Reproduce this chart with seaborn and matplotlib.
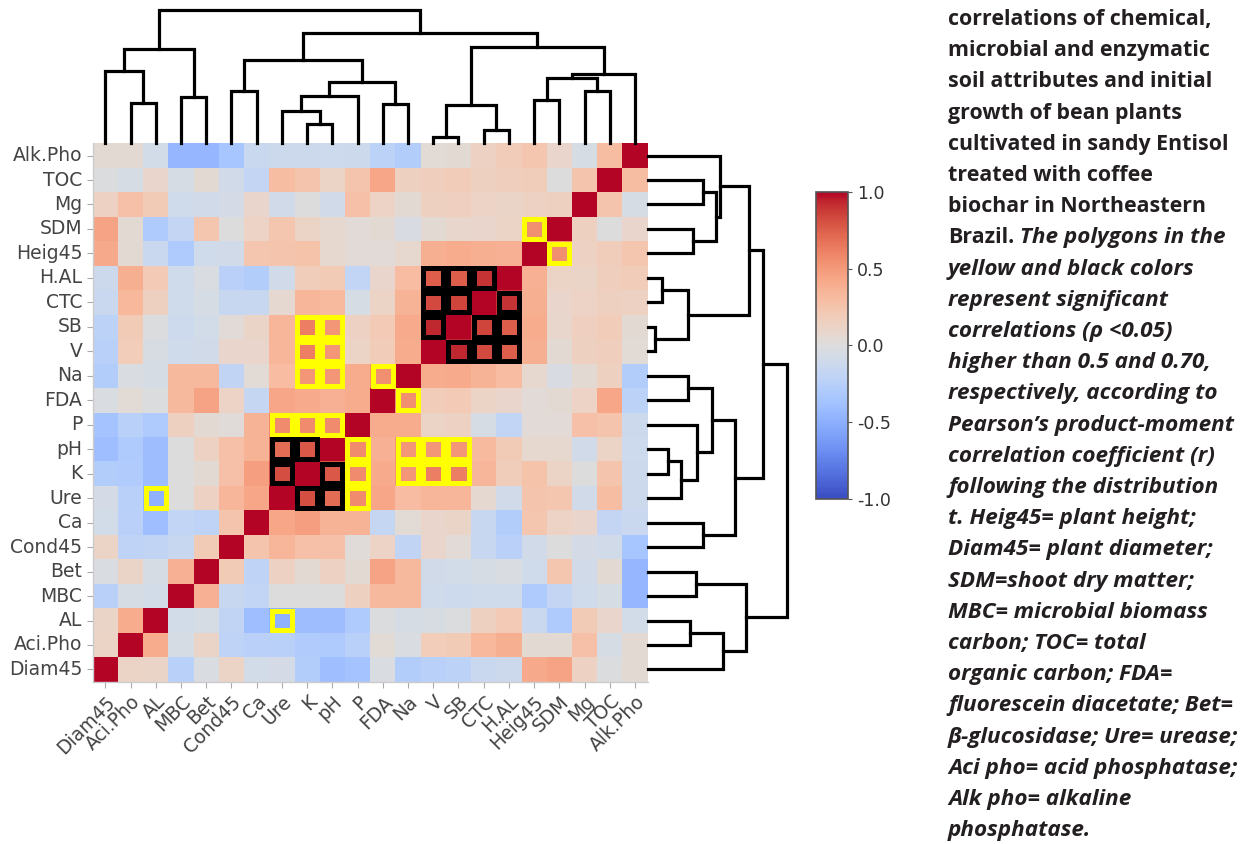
import numpy as np
import pandas as pd
import matplotlib
matplotlib.use("Agg")
import matplotlib.pyplot as plt
from matplotlib.patches import Rectangle
import seaborn as sns

# ---------------------------------------------------------------
# data (cluster order of the heatmap columns)
# ---------------------------------------------------------------
cols = ["Diam45", "Aci.Pho", "AL", "MBC", "Bet", "Cond45", "Ca", "Ure", "K", "pH",
        "P", "FDA", "Na", "V", "SB", "CTC", "H.AL", "Heig45", "SDM", "Mg", "TOC", "Alk.Pho"]
rows = cols[::-1]

# one list per heatmap row (top to bottom), values in column order
corr_rows = [
    [0.05, 0.05, -0.08, -0.45, -0.45, -0.35, -0.12, -0.12, -0.12, -0.10, -0.12, -0.20, -0.25, 0.03, 0.05, 0.12, 0.18, 0.25, 0.10, -0.05, 0.30, 1],   # Alk.Pho
    [0.00, -0.05, 0.10, -0.05, 0.05, -0.08, -0.15, 0.30, 0.25, 0.12, 0.25, 0.45, 0.15, 0.18, 0.18, 0.15, 0.15, 0.15, 0.00, 0.25, 1, 0.30],        # TOC
    [0.15, 0.30, 0.20, -0.08, -0.08, -0.05, 0.10, -0.08, 0.00, -0.08, 0.30, 0.15, 0.05, 0.15, 0.12, 0.10, 0.10, 0.12, 0.15, 1, 0.25, -0.05],      # Mg
    [0.45, 0.05, -0.30, -0.15, 0.22, 0.00, 0.15, 0.22, 0.12, 0.10, 0.05, 0.05, -0.02, 0.05, 0.08, 0.08, 0.12, 0.55, 1, 0.15, 0.00, 0.10],        # SDM
    [0.42, 0.05, -0.15, -0.30, -0.10, -0.08, 0.22, 0.25, 0.28, 0.10, 0.05, 0.02, 0.10, 0.38, 0.40, 0.40, 0.38, 1, 0.55, 0.15, 0.20, 0.22],       # Heig45
    [-0.15, 0.38, 0.22, -0.08, 0.00, -0.22, -0.25, -0.08, 0.20, 0.20, -0.18, 0.10, 0.30, 0.75, 0.75, 0.90, 1, 0.38, 0.12, 0.12, 0.18, 0.20],     # H.AL
    [-0.15, 0.35, 0.15, -0.08, -0.05, -0.12, -0.12, 0.08, 0.35, 0.32, -0.05, 0.12, 0.35, 0.83, 0.85, 1, 0.90, 0.38, 0.12, 0.15, 0.15, 0.15],     # CTC
    [-0.22, 0.22, 0.00, -0.10, -0.08, 0.05, 0.12, 0.35, 0.62, 0.52, 0.15, 0.20, 0.40, 0.93, 1, 0.85, 0.75, 0.40, 0.10, 0.20, 0.20, 0.05],        # SB
    [-0.25, 0.18, -0.05, -0.10, -0.10, 0.10, 0.10, 0.35, 0.62, 0.52, 0.12, 0.18, 0.40, 1, 0.93, 0.83, 0.75, 0.40, 0.05, 0.15, 0.15, 0.05],       # V
    [-0.25, 0.00, -0.05, 0.30, 0.30, -0.20, 0.03, 0.30, 0.52, 0.52, 0.40, 0.55, 1, 0.40, 0.42, 0.38, 0.32, 0.05, -0.05, 0.05, 0.15, -0.30],      # Na
    [0.00, 0.05, 0.00, 0.30, 0.45, 0.15, -0.15, 0.42, 0.40, 0.38, 0.40, 1, 0.55, 0.20, 0.22, 0.12, 0.10, 0.05, 0.05, 0.10, 0.42, -0.25],         # FDA
    [-0.35, -0.25, -0.30, 0.15, 0.05, 0.03, 0.35, 0.57, 0.57, 0.57, 1, 0.40, 0.40, 0.12, 0.12, -0.05, -0.18, 0.02, 0.02, 0.25, 0.25, -0.12],     # P
    [-0.40, -0.30, -0.40, 0.00, 0.15, 0.25, 0.35, 0.70, 0.78, 1, 0.57, 0.38, 0.52, 0.52, 0.52, 0.32, 0.20, 0.05, 0.05, -0.10, 0.12, -0.12],      # pH
    [-0.30, -0.30, -0.40, 0.00, 0.05, 0.25, 0.45, 0.82, 1, 0.78, 0.57, 0.42, 0.52, 0.62, 0.62, 0.35, 0.15, 0.25, 0.12, 0.00, 0.25, -0.12],       # K
    [-0.05, -0.25, -0.48, 0.00, 0.12, 0.35, 0.45, 1, 0.82, 0.70, 0.57, 0.45, 0.32, 0.35, 0.35, 0.05, -0.10, 0.25, 0.25, -0.10, 0.30, -0.12],     # Ure
    [-0.08, -0.25, -0.40, -0.22, -0.22, 0.25, 1, 0.42, 0.50, 0.38, 0.38, -0.18, 0.05, 0.10, 0.10, -0.18, -0.30, 0.25, 0.10, 0.10, -0.20, -0.15],  # Ca
    [0.12, -0.22, -0.18, -0.15, 0.20, 1, 0.25, 0.35, 0.30, 0.30, 0.03, 0.10, -0.18, 0.10, 0.02, -0.18, -0.25, -0.10, 0.00, -0.08, -0.10, -0.35],   # Cond45
    [0.00, 0.12, -0.05, 0.38, 1, 0.20, -0.20, 0.15, 0.05, 0.12, 0.05, 0.45, 0.35, -0.08, -0.08, -0.05, -0.05, -0.10, 0.25, -0.10, 0.05, -0.45],   # Bet
    [-0.25, -0.05, -0.08, 1, 0.38, -0.15, -0.15, 0.00, 0.00, 0.00, 0.15, 0.35, 0.35, -0.10, -0.12, -0.12, -0.12, -0.30, -0.20, -0.12, -0.05, -0.45],  # MBC
    [0.12, 0.40, 1, -0.08, -0.05, -0.20, -0.40, -0.48, -0.42, -0.42, -0.30, -0.02, -0.05, -0.03, -0.02, 0.15, 0.20, -0.12, -0.30, 0.20, 0.10, -0.08],  # AL
    [0.12, 1, 0.40, -0.05, 0.10, -0.20, -0.22, -0.25, -0.28, -0.30, -0.25, 0.03, -0.05, 0.18, 0.18, 0.32, 0.40, 0.05, 0.05, 0.25, -0.05, 0.05],   # Aci.Pho
    [1, 0.12, 0.10, -0.25, -0.05, 0.12, -0.08, -0.08, -0.25, -0.40, -0.38, -0.05, -0.30, -0.25, -0.22, -0.12, -0.10, 0.42, 0.45, 0.12, -0.02, 0.05],  # Diam45
]

# hierarchical clustering
# a str is a leaf, an int refers to an earlier merge (0-based)
merge_left = ["Aci.Pho", "Diam45", "MBC", 1, "Cond45", "K", "Ure", 6, "FDA", 7, 4,
              "V", "CTC", 11, "Heig45", "Mg", 14, 16, 13, 10, 3]
merge_right = ["AL", 0, "Bet", 2, "Ca", "pH", 5, "P", "Na", 8, 9,
               "SB", "H.AL", 12, "SDM", "TOC", 15, "Alk.Pho", 17, 18, 19]
merge_height = [0.305, 0.5425, 0.345, 0.7075, 0.395, 0.145, 0.2425, 0.3575, 0.2925, 0.4625, 0.625,
                0.05, 0.10, 0.2875, 0.325, 0.395, 0.4925, 0.52, 0.725, 0.825, 1.0]

# significant correlations (|r| 0.5-0.7 yellow, > 0.7 black)
yellow_pairs = [("Heig45", "SDM"), ("K", "SB"), ("pH", "SB"), ("K", "V"), ("pH", "V"),
                ("K", "Na"), ("pH", "Na"), ("FDA", "Na"), ("Ure", "P"), ("K", "P"),
                ("pH", "P"), ("Ure", "AL")]
black_pairs = [("V", "SB"), ("V", "CTC"), ("V", "H.AL"), ("SB", "CTC"), ("SB", "H.AL"),
               ("CTC", "H.AL"), ("Ure", "K"), ("Ure", "pH"), ("K", "pH")]

caption_bold = ["correlations of chemical,", "microbial and enzymatic",
                "soil attributes and initial", "growth of bean plants",
                "cultivated in sandy Entisol", "treated with coffee",
                "biochar in Northeastern"]
caption_split = ["Brazil.", " The polygons in the"]
caption_italic = ["yellow and black colors", "represent significant",
                  "correlations (\u03c1 <0.05)", "higher than 0.5 and 0.70,",
                  "respectively, according to", "Pearson\u2019s product-moment",
                  "correlation coefficient (r)", "following the distribution",
                  "t. Heig45= plant height;", "Diam45= plant diameter;",
                  "SDM=shoot dry matter;", "MBC= microbial biomass",
                  "carbon; TOC= total", "organic carbon; FDA=",
                  "fluorescein diacetate; Bet=", "\u03b2-glucosidase; Ure= urease;",
                  "Aci pho= acid phosphatase;", "Alk pho= alkaline", "phosphatase."]

LABEL_GRAY = "#444444"
TEXT_COL = "#231f20"
W, H = 1253, 844

plt.rcParams["font.family"] = ["DejaVu Sans"]

# symmetric matrix in column order, then back to display order
disp = np.array(corr_rows, dtype=float)
full = disp[::-1]
full = (full + full.T) / 2
np.fill_diagonal(full, 1.0)
df = pd.DataFrame(full[::-1], index=rows, columns=cols)


def box(x0, y0, x1, y1):
    return [x0 / W, 1 - y1 / H, (x1 - x0) / W, (y1 - y0) / H]


fig = plt.figure(figsize=(W / 100, H / 100), dpi=100)
ax = fig.add_axes(box(92.7, 143.3, 647.7, 681.7))
cax = fig.add_axes(box(816, 192, 848, 499))
ax_top = fig.add_axes(box(92.7, 10, 647.7, 143.3))
ax_right = fig.add_axes(box(647.7, 143.3, 787, 681.7))

sns.heatmap(df, cmap="coolwarm", vmin=-1, vmax=1, ax=ax, cbar_ax=cax,
            xticklabels=True, yticklabels=True)

ax.tick_params(axis="both", length=4, width=0.8, color="#aaaaaa",
               labelsize=13.5, labelcolor=LABEL_GRAY)
plt.setp(ax.get_yticklabels(), rotation=0)
plt.setp(ax.get_xticklabels(), rotation=45, ha="right", rotation_mode="anchor")
for sp in ["left", "bottom"]:
    ax.spines[sp].set_visible(True)
    ax.spines[sp].set_color("#cccccc")
    ax.spines[sp].set_linewidth(1)
ax.set_xlabel("")
ax.set_ylabel("")

# significance frames
for pairs, colr in [(yellow_pairs, "#ffff00"), (black_pairs, "black")]:
    for a, b in pairs:
        for r, c in [(a, b), (b, a)]:
            i = rows.index(r)
            j = cols.index(c)
            ax.add_patch(Rectangle((j + 0.1, i + 0.1), 0.8, 0.8, fill=False,
                                   edgecolor=colr, lw=3.6, joinstyle="miter"))

# colorbar
cbar = ax.collections[0].colorbar
cbar.outline.set_visible(True)
cbar.outline.set_linewidth(1.2)
cbar.outline.set_edgecolor("#555555")
cbar.set_ticks([-1, -0.5, 0, 0.5, 1])
cbar.set_ticklabels(["-1.0", "-0.5", "0.0", "0.5", "1.0"])
cax.tick_params(length=3, width=0.8, color="#555555", labelsize=12.5, labelcolor="#333333")

# dendrograms
leaf_pos = {name: k + 0.5 for k, name in enumerate(cols)}
node_x, node_h = [], []


def child(c):
    if isinstance(c, str):
        return leaf_pos[c], 0.0
    return node_x[c], node_h[c]


for l, r, h in zip(merge_left, merge_right, merge_height):
    xl, hl = child(l)
    xr, hr = child(r)
    ax_top.plot([xl, xl, xr, xr], [hl, h, h, hr], color="black", lw=2.3,
                clip_on=False, solid_joinstyle="miter")
    ax_right.plot([hl, h, h, hr], [22 - xl, 22 - xl, 22 - xr, 22 - xr], color="black",
                  lw=2.3, clip_on=False, solid_joinstyle="miter")
    node_x.append((xl + xr) / 2)
    node_h.append(h)

ax_top.set_xlim(0, 22)
ax_top.set_ylim(0, 1)
ax_top.axis("off")
ax_right.set_ylim(22, 0)
ax_right.set_xlim(0, 1)
ax_right.axis("off")

# caption text on the right
tax = fig.add_axes([0, 0, 1, 1])
tax.set_xlim(0, W)
tax.set_ylim(H, 0)
tax.axis("off")

TX = 948
BASE = 25
STEP = 31.2
font = dict(family=["Open Sans", "DejaVu Sans"], color=TEXT_COL,
            fontweight="bold", va="baseline", ha="left")
SIZE_UP = 15.4
SIZE_IT = 16.2

k = 0
for line in caption_bold:
    tax.text(TX, BASE + STEP * k, line, fontsize=SIZE_UP, **font)
    k += 1
t1 = tax.text(TX, BASE + STEP * k, caption_split[0], fontsize=SIZE_UP, **font)
renderer = fig.canvas.get_renderer()
bb = t1.get_window_extent(renderer=renderer)
tax.text(bb.x1, BASE + STEP * k, caption_split[1], style="italic", fontsize=SIZE_IT, **font)
k += 1
for line in caption_italic:
    tax.text(TX, BASE + STEP * k, line, style="italic", fontsize=SIZE_IT, **font)
    k += 1

fig.savefig("out.png", dpi=100)
